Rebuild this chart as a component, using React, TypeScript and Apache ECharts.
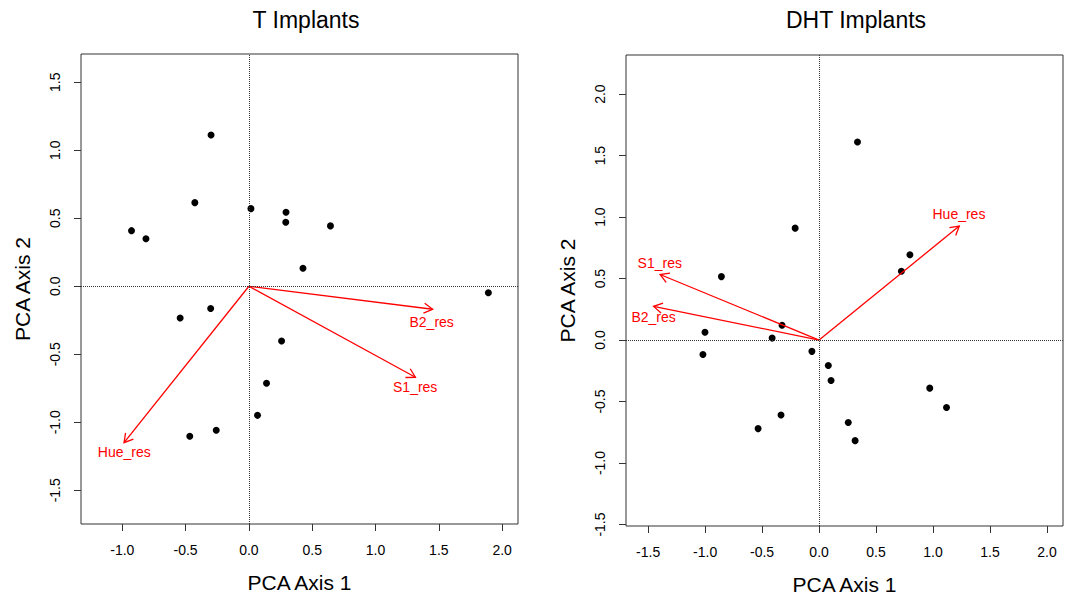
import React, { useEffect, useRef } from "react";
import * as echarts from "echarts";

// ---- T Implants ----
const tScoreX = [-0.299, -0.427, -0.927, -0.813, 0.016, 0.293, 0.291, 0.644, 0.427, 1.891, -0.543, -0.302, 0.258, 0.139, 0.068, -0.258, -0.467];
const tScoreY = [1.113, 0.615, 0.409, 0.350, 0.571, 0.544, 0.471, 0.444, 0.132, -0.047, -0.233, -0.164, -0.402, -0.713, -0.949, -1.059, -1.103];
const tArrowNames = ["B2_res", "S1_res", "Hue_res"];
const tArrowX = [1.451, 1.315, -0.986];
const tArrowY = [-0.169, -0.669, -1.150];
const tLabelX = [1.443, 1.313, -0.984];
const tLabelY = [-0.260, -0.738, -1.216];
const tXTicks = [-1, -0.5, 0, 0.5, 1, 1.5, 2];
const tYTicks = [-1.5, -1, -0.5, 0, 0.5, 1, 1.5];
const tXRange = [-1.326, 2.125];
const tYRange = [-1.748, 1.708];

// ---- DHT Implants ----
const dScoreX = [0.337, -0.210, -0.857, 0.797, 0.722, -0.325, -1.001, -0.412, -1.019, -0.063, 0.081, 0.105, 0.971, 1.118, -0.334, -0.535, 0.256, 0.316];
const dScoreY = [1.611, 0.910, 0.516, 0.693, 0.560, 0.120, 0.063, 0.016, -0.117, -0.092, -0.207, -0.329, -0.391, -0.549, -0.609, -0.720, -0.671, -0.818];
const dArrowNames = ["Hue_res", "S1_res", "B2_res"];
const dArrowX = [1.230, -1.395, -1.452];
const dArrowY = [0.927, 0.533, 0.274];
const dLabelX = [1.227, -1.398, -1.452];
const dLabelY = [1.022, 0.630, 0.185];
const dXTicks = [-1.5, -1, -0.5, 0, 0.5, 1, 1.5, 2];
const dYTicks = [-1.5, -1, -0.5, 0, 0.5, 1, 1.5, 2];
const dXRange = [-1.694, 2.140];
const dYRange = [-1.512, 2.318];

const titles = ["T Implants", "DHT Implants"];
const xTitle = "PCA Axis 1";
const yTitle = "PCA Axis 2";

const FONT = "'Liberation Sans', Arial, Helvetica, sans-serif";
const AXIS_COLOR = "#333";

function makeXAxis(gridIndex: number, range: number[], ticks: number[]) {
  return {
    type: "value",
    gridIndex,
    min: range[0],
    max: range[1],
    name: xTitle,
    nameLocation: "middle",
    nameGap: 48,
    nameTextStyle: { fontFamily: FONT, fontSize: 21, color: "#000" },
    axisLine: { show: false, onZero: false },
    splitLine: { show: false },
    axisTick: { show: true, length: 7, customValues: ticks, lineStyle: { color: AXIS_COLOR } },
    axisLabel: {
      customValues: ticks,
      margin: 19,
      fontFamily: FONT,
      fontSize: 14,
      color: "#000",
      formatter: (v: number) => v.toFixed(1),
    },
  };
}

function makeYAxis(gridIndex: number, range: number[], ticks: number[]) {
  return {
    type: "value",
    gridIndex,
    min: range[0],
    max: range[1],
    name: yTitle,
    nameLocation: "middle",
    nameGap: 48,
    nameRotate: 90,
    nameTextStyle: { fontFamily: FONT, fontSize: 21, color: "#000" },
    axisLine: { show: false, onZero: false },
    splitLine: { show: false },
    axisTick: { show: true, length: 7, customValues: ticks, lineStyle: { color: AXIS_COLOR } },
    axisLabel: {
      customValues: ticks,
      rotate: 90,
      margin: 19,
      fontFamily: FONT,
      fontSize: 14,
      color: "#000",
      formatter: (v: number) => v.toFixed(1),
    },
  };
}

function scatterSeries(idx: number, xs: number[], ys: number[]) {
  return {
    type: "scatter",
    xAxisIndex: idx,
    yAxisIndex: idx,
    symbol: "circle",
    symbolSize: 7,
    itemStyle: { color: "#000", opacity: 1 },
    data: xs.map((x, i) => [x, ys[i]]),
    z: 3,
    markLine: {
      silent: true,
      symbol: ["none", "none"],
      label: { show: false },
      lineStyle: { type: "dotted", color: AXIS_COLOR, width: 1 },
      data: [{ xAxis: 0 }, { yAxis: 0 }],
    },
  };
}

function arrowSeries(idx: number, names: string[], ax: number[], ay: number[], lx: number[], ly: number[]) {
  return {
    type: "custom",
    xAxisIndex: idx,
    yAxisIndex: idx,
    clip: false,
    z: 4,
    data: ax.map((x, i) => [x, ay[i], lx[i], ly[i]]),
    renderItem: (params: any, api: any) => {
      const i = params.dataIndex;
      const o = api.coord([0, 0]);
      const e = api.coord([api.value(0), api.value(1)]);
      const l = api.coord([api.value(2), api.value(3)]);
      const ang = Math.atan2(e[1] - o[1], e[0] - o[0]);
      const L = 10;
      const spread = Math.PI / 6;
      const p1 = [e[0] - L * Math.cos(ang - spread), e[1] - L * Math.sin(ang - spread)];
      const p2 = [e[0] - L * Math.cos(ang + spread), e[1] - L * Math.sin(ang + spread)];
      const red = "#ff0000";
      return {
        type: "group",
        children: [
          { type: "line", shape: { x1: o[0], y1: o[1], x2: e[0], y2: e[1] }, style: { stroke: red, lineWidth: 1.3 } },
          { type: "polyline", shape: { points: [p1, e, p2] }, style: { stroke: red, lineWidth: 1.3, fill: "none" } },
          {
            type: "text",
            x: l[0],
            y: l[1],
            style: { text: names[i], fill: red, fontFamily: FONT, fontSize: 14, align: "center", verticalAlign: "middle" },
          },
        ],
      };
    },
  };
}

export default function App() {
  const ref = useRef<HTMLDivElement>(null);
  useEffect(() => {
    if (!ref.current) return;
    const chart = echarts.init(ref.current, null, { renderer: "svg" });
    chart.setOption({
      animation: false,
      backgroundColor: "#fff",
      grid: [
        { left: 81, top: 54, width: 437, height: 470, show: true, borderColor: AXIS_COLOR, borderWidth: 1, backgroundColor: "transparent" },
        { left: 626, top: 55, width: 437, height: 471, show: true, borderColor: AXIS_COLOR, borderWidth: 1, backgroundColor: "transparent" },
      ],
      xAxis: [makeXAxis(0, tXRange, tXTicks), makeXAxis(1, dXRange, dXTicks)],
      yAxis: [makeYAxis(0, tYRange, tYTicks), makeYAxis(1, dYRange, dYTicks)],
      graphic: [
        { type: "text", x: 306, y: 20, style: { text: titles[0], fontFamily: FONT, fontSize: 23, fill: "#000", align: "center", verticalAlign: "middle" } },
        { type: "text", x: 856, y: 20, style: { text: titles[1], fontFamily: FONT, fontSize: 23, fill: "#000", align: "center", verticalAlign: "middle" } },
      ],
      series: [
        scatterSeries(0, tScoreX, tScoreY),
        arrowSeries(0, tArrowNames, tArrowX, tArrowY, tLabelX, tLabelY),
        scatterSeries(1, dScoreX, dScoreY),
        arrowSeries(1, dArrowNames, dArrowX, dArrowY, dLabelX, dLabelY),
      ],
    });
    return () => chart.dispose();
  }, []);
  return (
    <div
      ref={ref}
      style={{ position: "fixed", left: 0, top: 0, width: 1067, height: 603, background: "#fff" }}
    />
  );
}
